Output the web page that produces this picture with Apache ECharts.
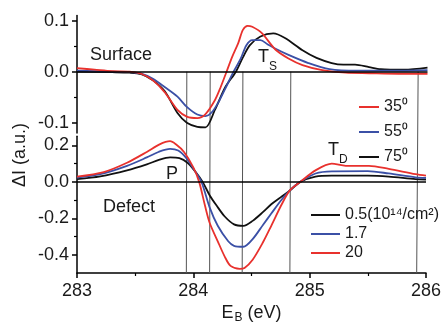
<!DOCTYPE html>
<html><head><meta charset="utf-8">
<script src="https://cdn.jsdelivr.net/npm/echarts@6/dist/echarts.min.js"></script>
<style>html,body{margin:0;padding:0;background:#fff}#c{width:444px;height:325px}</style>
</head><body><div id="c"></div>
<script>
// ---------- Surface panel (angle series) ----------
const s35X = [283.0, 283.15, 283.3, 283.45, 283.55, 283.65, 283.75, 283.86, 283.94, 284.03, 284.1, 284.18, 284.23, 284.28, 284.33, 284.38, 284.42, 284.46, 284.5, 284.58, 284.7, 284.81, 284.93, 285.1, 285.3, 285.5, 285.75, 286.0];
const s35Y = [0.007, 0.004, 0.001, 0.0, -0.004, -0.017, -0.04, -0.075, -0.088, -0.091, -0.083, -0.056, -0.03, 0.0, 0.03, 0.056, 0.082, 0.09, 0.088, 0.076, 0.043, 0.026, 0.013, 0.003, -0.002, -0.003, -0.004, -0.004];
const s55X = [283.0, 283.3, 283.45, 283.55, 283.65, 283.75, 283.86, 283.94, 284.03, 284.1, 284.16, 284.22, 284.28, 284.34, 284.4, 284.45, 284.5, 284.57, 284.63, 284.7, 284.81, 284.98, 285.16, 285.4, 285.7, 286.0];
const s55Y = [0.002, 0.0, -0.001, -0.004, -0.014, -0.03, -0.049, -0.069, -0.084, -0.087, -0.078, -0.056, -0.028, 0.0, 0.025, 0.052, 0.062, 0.062, 0.054, 0.045, 0.033, 0.017, 0.005, 0.002, 0.002, 0.003];
const s75X = [283.0, 283.3, 283.45, 283.55, 283.65, 283.75, 283.86, 283.94, 284.03, 284.1, 284.18, 284.27, 284.36, 284.42, 284.48, 284.57, 284.68, 284.78, 284.93, 285.05, 285.18, 285.28, 285.38, 285.5, 285.6, 285.8, 286.0];
const s75Y = [0.0, -0.001, -0.002, -0.005, -0.017, -0.038, -0.081, -0.1, -0.108, -0.109, -0.075, -0.03, 0.0, 0.028, 0.052, 0.069, 0.075, 0.066, 0.042, 0.027, 0.017, 0.014, 0.014, 0.009, 0.005, 0.004, 0.008];

// ---------- Defect panel (dose series) ----------
const d05X = [283.0, 283.2, 283.43, 283.6, 283.71, 283.8, 283.88, 283.95, 284.02, 284.08, 284.14, 284.2, 284.27, 284.35, 284.43, 284.51, 284.6, 284.67, 284.75, 284.83, 284.92, 285.05, 285.19, 285.5, 285.68, 285.91, 286.0];
const d05Y = [0.015, 0.03, 0.063, 0.096, 0.122, 0.134, 0.13, 0.105, 0.054, 0.0, -0.073, -0.13, -0.19, -0.233, -0.241, -0.214, -0.165, -0.123, -0.085, -0.047, 0.0, 0.029, 0.034, 0.034, 0.029, 0.015, 0.013];
const d17X = [283.0, 283.2, 283.43, 283.6, 283.7, 283.8, 283.87, 283.94, 284.01, 284.07, 284.14, 284.21, 284.3, 284.35, 284.43, 284.51, 284.6, 284.67, 284.75, 284.83, 284.92, 285.05, 285.19, 285.5, 285.68, 285.91, 286.0];
const d17Y = [0.024, 0.042, 0.088, 0.134, 0.164, 0.181, 0.172, 0.13, 0.063, 0.0, -0.14, -0.241, -0.326, -0.351, -0.356, -0.314, -0.235, -0.174, -0.105, -0.047, 0.0, 0.046, 0.058, 0.059, 0.046, 0.025, 0.022];
const d20X = [283.0, 283.23, 283.43, 283.6, 283.71, 283.8, 283.85, 283.92, 284.0, 284.05, 284.1, 284.14, 284.21, 284.27, 284.32, 284.4, 284.44, 284.51, 284.6, 284.67, 284.76, 284.83, 284.92, 285.05, 285.19, 285.31, 285.51, 285.68, 285.91, 286.0];
const d20Y = [0.029, 0.054, 0.105, 0.164, 0.206, 0.223, 0.206, 0.164, 0.08, 0.0, -0.13, -0.224, -0.326, -0.41, -0.461, -0.477, -0.472, -0.427, -0.33, -0.241, -0.123, -0.047, 0.0, 0.063, 0.1, 0.088, 0.088, 0.071, 0.042, 0.034];

// ---------- names, ticks, reference lines ----------
const surfNames = ['35\u2070', '55\u2070', '75\u2070'];
const defNames = ['0.5(10\u00b9\u2074/cm\u00b2)', '1.7', '20'];
const xTicks = [283, 284, 285, 286];
const surfTicks = [-0.1, 0, 0.1];
const surfMinor = [-0.05, 0.05];
const defTicks = [-0.4, -0.2, 0, 0.2];
const defMinor = [-0.3, -0.1, 0.1];
const refLinesX = [283.94, 284.14, 284.42, 284.83, 285.92];

const RED = '#e8312d', BLUE = '#3b50a6', BLACK = '#111111';
const FONT = '"Liberation Sans", Arial, sans-serif';
const TXT = '#1a1a1a';

const zip = (xs, ys) => xs.map((x, i) => [x, ys[i]]);
const zeroLine = {
  silent: true, symbol: 'none', label: { show: false },
  lineStyle: { color: '#000', width: 1.5, type: 'solid' },
  data: [{ yAxis: 0 }]
};
function lineSeries(name, xs, ys, color, xi, yi, extra) {
  return Object.assign({
    name, type: 'line', xAxisIndex: xi, yAxisIndex: yi,
    data: zip(xs, ys), symbol: 'none', smooth: 0.3,
    lineStyle: { color, width: 1.8 }, itemStyle: { color }
  }, extra || {});
}
function mainY(grid, min, max, ticks) {
  return {
    type: 'value', gridIndex: grid, min, max, position: 'left',
    axisLine: { show: true, lineStyle: { color: '#000', width: 1.5 } },
    axisTick: { show: true, inside: false, length: 5, customValues: ticks, lineStyle: { color: '#000', width: 1.5 } },
    axisLabel: { customValues: ticks, margin: 8, fontSize: 18, color: TXT, fontFamily: FONT,
      formatter: v => Number(v).toFixed(1) },
    splitLine: { show: false }
  };
}
function minorY(grid, min, max, ticks) {
  return {
    type: 'value', gridIndex: grid, min, max, position: 'left', offset: 0,
    axisLine: { show: false },
    axisTick: { show: true, inside: false, length: 3, customValues: ticks, lineStyle: { color: '#000', width: 1.2 } },
    axisLabel: { show: false },
    splitLine: { show: false }
  };
}

const chart = echarts.init(document.getElementById('c'), null, { renderer: 'canvas' });
chart.setOption({
  animation: false,
  backgroundColor: '#fff',
  grid: [
    { left: 77, width: 350.5, top: 15.6, height: 117.3 },
    { left: 77, width: 350.5, top: 136.3, height: 148.1 }
  ],
  xAxis: [
    { type: 'value', gridIndex: 0, min: 283, max: 286, interval: 1, show: false },
    { type: 'value', gridIndex: 1, min: 283, max: 286, interval: 1,
      axisLine: { show: true, onZero: false, lineStyle: { color: '#000', width: 1.5 } },
      axisTick: { show: true, length: 5, lineStyle: { color: '#000', width: 1.5 } },
      minorTick: { show: true, splitNumber: 2, length: 3, lineStyle: { color: '#000', width: 1.2 } },
      axisLabel: { margin: 9, fontSize: 18, color: TXT, fontFamily: FONT, formatter: v => String(v) },
      splitLine: { show: false },
      name: '{e|E}{s|B}{e| (eV)}', nameLocation: 'middle', nameGap: 30,
      nameTextStyle: { rich: {
        e: { fontSize: 18, color: TXT, fontFamily: FONT },
        s: { fontSize: 12, color: TXT, fontFamily: FONT, padding: [9, 0, 0, 1] }
      } }
    }
  ],
  yAxis: [
    mainY(0, -0.12, 0.11, surfTicks),
    minorY(0, -0.12, 0.11, surfMinor),
    mainY(1, -0.5, 0.25, defTicks),
    minorY(1, -0.5, 0.25, defMinor)
  ],
  legend: [
    { data: surfNames, orient: 'vertical', left: 359, top: 99, itemWidth: 20, itemHeight: 2,
      icon: 'rect', itemGap: 9, selectedMode: false, padding: 0,
      textStyle: { fontSize: 16, color: TXT, fontFamily: FONT } },
    { data: defNames, orient: 'vertical', left: 311, top: 207, itemWidth: 29, itemHeight: 2,
      icon: 'rect', itemGap: 3, selectedMode: false, padding: 0,
      textStyle: { fontSize: 16, color: TXT, fontFamily: FONT } }
  ],
  series: [
    lineSeries(surfNames[2], s75X, s75Y, BLACK, 0, 0, { markLine: zeroLine }),
    lineSeries(surfNames[1], s55X, s55Y, BLUE, 0, 0),
    lineSeries(surfNames[0], s35X, s35Y, RED, 0, 0),
    lineSeries(defNames[0], d05X, d05Y, BLACK, 1, 2, { markLine: zeroLine }),
    lineSeries(defNames[1], d17X, d17Y, BLUE, 1, 2),
    lineSeries(defNames[2], d20X, d20Y, RED, 1, 2)
  ]
});

// reference lines from the Surface zero line down to the bottom axis, placed via the axes' scales
const lines = refLinesX.map((x, i) => {
  const p0 = chart.convertToPixel({ xAxisIndex: 0, yAxisIndex: 0 }, [x, 0]);
  const p1 = chart.convertToPixel({ xAxisIndex: 1, yAxisIndex: 2 }, [x, -0.5]);
  return { type: 'line', id: 'ref' + i, z: 1, silent: true,
    shape: { x1: p0[0], y1: p0[1], x2: p1[0], y2: p1[1] },
    style: { stroke: '#555', lineWidth: 1 } };
});
const txt = (id, text, x, y, size, extra) => Object.assign({
  type: 'text', id, x, y, z: 10, silent: true,
  style: { text, fill: TXT, font: size + 'px ' + FONT, verticalAlign: 'middle', align: 'left' }
}, extra || {});
chart.setOption({
  graphic: { elements: lines.concat([
    txt('surf', 'Surface', 90, 55, 18),
    txt('def', 'Defect', 103, 207, 18),
    txt('p', 'P', 166, 174, 18),
    txt('ts', 'T', 258, 57, 18),
    txt('tss', 'S', 269, 67, 12),
    txt('td', 'T', 328, 150, 18),
    txt('tds', 'D', 339, 160, 12),
    { type: 'text', id: 'ylab', x: 20, y: 155, rotation: Math.PI / 2, silent: true,
      style: { text: '\u0394I (a.u.)', fill: TXT, font: '18px ' + FONT, align: 'center', verticalAlign: 'middle' } }
  ]) }
});
</script></body></html>
